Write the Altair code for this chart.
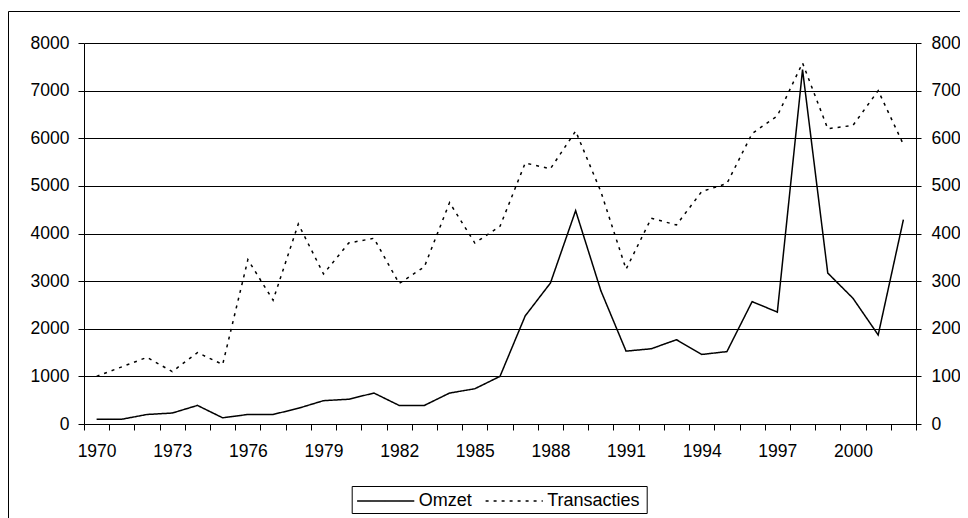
import altair as alt
import pandas as pd

# ---- data ----
years = list(range(1970, 2003))
omzet = [100, 100, 200, 230, 390, 130, 200, 200, 330, 490, 520, 650, 390, 390, 650, 740, 1000,
         2270, 2960, 4480, 2800, 1530, 1580, 1770, 1460, 1520, 2570, 2350, 7440, 3170, 2640, 1870, 4290]
transacties = [100, 120, 140, 110, 150, 125, 345, 260, 420, 315, 380, 390, 295, 330, 465, 380, 415,
               548, 536, 615, 488, 325, 432, 418, 488, 505, 610, 647, 758, 620, 627, 700, 587]
series_names = ["Omzet", "Transacties"]
left_ticks = list(range(0, 8001, 1000))
right_ticks = list(range(0, 801, 100))

df = pd.DataFrame({
    "jaar": years * 2,
    "waarde": omzet + transacties,
    "reeks": [series_names[0]] * len(years) + [series_names[1]] * len(years),
})

FONT = "Liberation Sans"
FS = 17.5

x_enc = alt.X(
    "jaar:O",
    bandPosition=0.5,
    scale=alt.Scale(type="band", paddingInner=0, paddingOuter=0),
    axis=alt.Axis(
        title=None, tickBand="extent", labelAngle=0, labelOverlap=False,
        labelExpr="(datum.value - 1970) % 3 == 0 ? datum.label : ''",
        tickSize=6, labelPadding=12, grid=False,
    ),
)

dash = alt.StrokeDash(
    "reeks:N",
    scale=alt.Scale(domain=series_names, range=[[1, 0], [3, 5]]),
    legend=alt.Legend(
        title="\u00a0", titleOrient="right", titlePadding=4,
        titleFont=FONT, titleFontSize=18,
        orient="none", legendX=267.7, legendY=443,
        direction="horizontal", strokeColor="black", fillColor="white",
        padding=3, cornerRadius=0,
        symbolType="M-2.6,0H2.6", symbolSize=484,
        symbolStrokeColor="black", symbolStrokeWidth=1.5,
        symbolOffset=19, labelOffset=21, columnPadding=9.5,
        labelFont=FONT, labelFontSize=18, labelColor="black",
    ),
)

frame = alt.Chart(pd.DataFrame({"k": [0]})).mark_rect(
    fillOpacity=0, stroke="black", strokeWidth=1
).encode(
    x=alt.value(-75.5), x2=alt.value(1000), y=alt.value(-31.5), y2=alt.value(700)
)

left = alt.Chart(df).transform_filter("datum.reeks == 'Omzet'").mark_line(
    color="black", strokeWidth=1.5
).encode(
    x=x_enc,
    y=alt.Y(
        "waarde:Q",
        scale=alt.Scale(domain=[0, 8000], nice=False, zero=True),
        axis=alt.Axis(title=None, orient="left", values=left_ticks, format="d", grid=True,
                      gridColor="black", gridOpacity=1, gridWidth=1,
                      tickSize=6, labelPadding=9),
    ),
    strokeDash=dash,
)

right = alt.Chart(df).transform_filter("datum.reeks == 'Transacties'").mark_line(
    color="black", strokeWidth=1.5
).encode(
    x=x_enc,
    y=alt.Y(
        "waarde:Q",
        scale=alt.Scale(domain=[0, 800], nice=False, zero=True),
        axis=alt.Axis(title=None, orient="right", values=right_ticks, format="d", grid=False,
                      tickSize=5, labelPadding=10),
    ),
    strokeDash=dash,
)

chart = alt.layer(frame, left, right).resolve_scale(y="independent").properties(
    width=832, height=381,
    autosize=alt.AutoSizeParams(type="none"),
    padding={"left": 76, "top": 35, "right": 44, "bottom": 100},
    background="white",
).configure_view(stroke=None).configure_axis(
    labelFont=FONT, labelFontSize=FS, labelColor="black",
    domainColor="black", tickColor="black", domainWidth=1, tickWidth=1,
)

chart.save("out.html", embed_options={"renderer": "svg", "actions": False})
